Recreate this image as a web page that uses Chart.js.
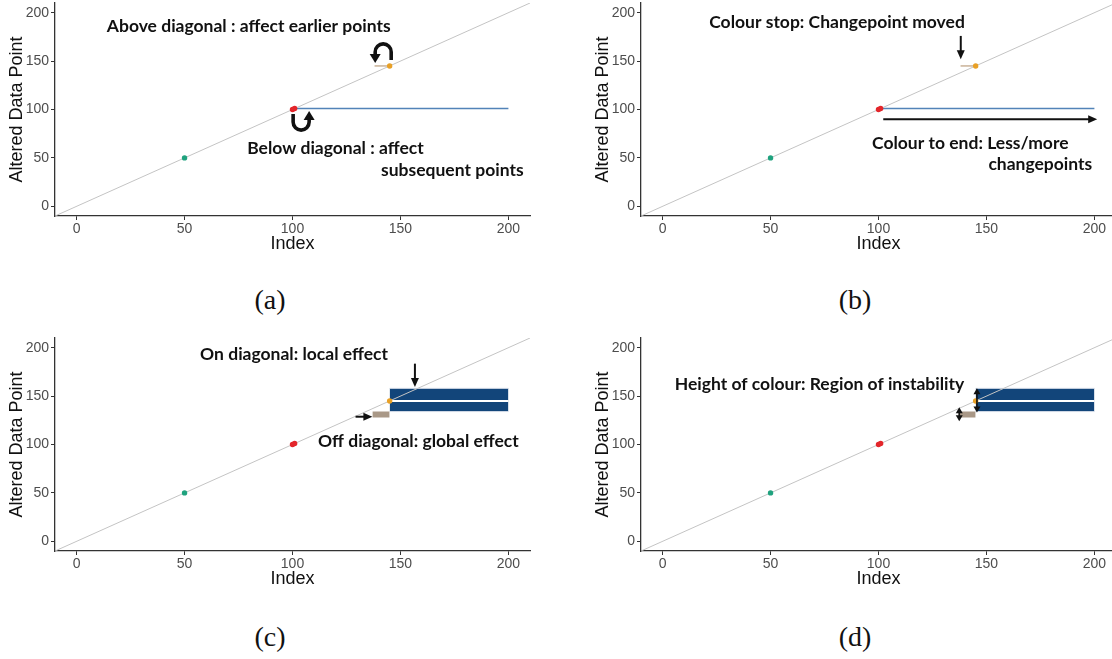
<!DOCTYPE html>
<html lang="en">
<head>
<meta charset="UTF-8">
<title>Changepoint stability diagrams</title>
<script src="https://cdn.jsdelivr.net/npm/chart.js"></script>
<style>
    body {
        margin: 0;
        width: 1112px;
        height: 659px;
        overflow: hidden;
        background: #fff;
        position: relative;
    }
    .panel {
        position: absolute;
        width: 545px;
        height: 266px;
    }
    .caption {
        position: absolute;
        width: 80px;
        margin-left: -40px;
        text-align: center;
        font-family: 'Liberation Serif', serif;
        font-size: 28px;
        line-height: 30px;
        color: #111;
    }
</style>
</head>
<body>
<div class="panel" style="left:0;top:-10px"><canvas id="chartA" width="545" height="266"></canvas></div>
<div class="panel" style="left:586px;top:-10px"><canvas id="chartB" width="545" height="266"></canvas></div>
<div class="panel" style="left:0;top:325px"><canvas id="chartC" width="545" height="266"></canvas></div>
<div class="panel" style="left:586px;top:325px"><canvas id="chartD" width="545" height="266"></canvas></div>
<div class="caption" style="left:270px;top:285px">(a)</div>
<div class="caption" style="left:855px;top:285px">(b)</div>
<div class="caption" style="left:270px;top:622px">(c)</div>
<div class="caption" style="left:855px;top:622px">(d)</div>

<script>
    // axis ticks
    const indexTicks = [0, 50, 100, 150, 200];
    const valueTicks = [0, 50, 100, 150, 200];

    // y = x reference line
    const diagIdx = [-10, 210];
    const diagVal = [-10, 210];

    // changepoints (same in every panel)
    const pointIdx = [50, 100, 101, 145];
    const pointVal = [50, 100, 101, 145];
    const pointColours = ['#1fa27e', '#e3262b', '#e3262b', '#e8a026'];

    // (a), (b): thin segments
    const blueLineIdx = [101, 200];
    const blueLineVal = [101, 101];
    const tanLineIdx = [138, 145];
    const tanLineVal = [145, 145];

    // (c), (d): coloured regions
    const tileIdx = [145, 200];
    const tileLow = [134, 134];
    const tileMid = [145, 145];
    const tileHigh = [158, 158];
    const tanTileIdx = [137, 145];
    const tanTileLow = [128, 128];
    const tanTileHigh = [134, 134];

    const xy = (xs, ys) => xs.map((x, i) => ({ x: x, y: ys[i] }));

    // annotations, placed in data units
    const notesA = {
        texts: [
            { t: 'Above diagonal : affect earlier points', x: 14, y: 186 },
            { t: 'Below diagonal : affect', x: 79, y: 60 },
            { t: 'subsequent points', x: 141, y: 37 }
        ],
        arrows: [],
        curls: [
            { x: 142, y: 159.5, dir: 'over' },
            { x: 104, y: 87, dir: 'under' }
        ]
    };
    const notesB = {
        texts: [
            { t: 'Colour stop: Changepoint moved', x: 21.6, y: 189.7 },
            { t: 'Colour to end: Less/more', x: 97, y: 65 },
            { t: 'changepoints', x: 199, y: 43.4, align: 'right' }
        ],
        arrows: [
            { x1: 138.1, y1: 176, x2: 138.1, y2: 152 },
            { x1: 102.2, y1: 90, x2: 201.3, y2: 90 }
        ],
        curls: []
    };
    const notesC = {
        texts: [
            { t: 'On diagonal: local effect', x: 57.2, y: 193.2 },
            { t: 'Off diagonal: global effect', x: 111.8, y: 103.6 }
        ],
        arrows: [
            { x1: 156.7, y1: 183.5, x2: 156.7, y2: 159.5 },
            { x1: 129.2, y1: 128.7, x2: 137, y2: 128.7 }
        ],
        curls: []
    };
    const notesD = {
        texts: [
            { t: 'Height of colour: Region of instability', x: 5.6, y: 162.5 }
        ],
        arrows: [
            { x1: 145.6, y1: 158, x2: 145.6, y2: 133, both: true },
            { x1: 137.4, y1: 138.5, x2: 137.4, y2: 124, both: true }
        ],
        curls: []
    };

    function head(ctx, x, y, a, len, w) {
        ctx.beginPath();
        ctx.moveTo(x, y);
        ctx.lineTo(x - len * Math.cos(a) + w * Math.sin(a), y - len * Math.sin(a) - w * Math.cos(a));
        ctx.lineTo(x - len * Math.cos(a) - w * Math.sin(a), y - len * Math.sin(a) + w * Math.cos(a));
        ctx.closePath();
        ctx.fill();
    }

    const notesPlugin = {
        id: 'notes',
        afterDatasetsDraw(chart, args, opts) {
            const ctx = chart.ctx;
            const xs = chart.scales.x, ys = chart.scales.y;
            ctx.save();
            ctx.fillStyle = '#111';
            ctx.strokeStyle = '#111';
            ctx.font = 'bold 17.5px Lato';
            ctx.textBaseline = 'middle';
            (opts.texts || []).forEach(n => {
                ctx.textAlign = n.align || 'left';
                ctx.fillText(n.t, xs.getPixelForValue(n.x), ys.getPixelForValue(n.y));
            });
            (opts.arrows || []).forEach(a => {
                const x1 = xs.getPixelForValue(a.x1), y1 = ys.getPixelForValue(a.y1);
                const x2 = xs.getPixelForValue(a.x2), y2 = ys.getPixelForValue(a.y2);
                const ang = Math.atan2(y2 - y1, x2 - x1);
                const len = a.both ? 5 : 8;
                const w = a.both ? 3.5 : 4;
                ctx.lineWidth = a.both ? 1.6 : 2;
                ctx.beginPath();
                ctx.moveTo(x1 + (a.both ? len * Math.cos(ang) : 0), y1 + (a.both ? len * Math.sin(ang) : 0));
                ctx.lineTo(x2 - len * Math.cos(ang), y2 - len * Math.sin(ang));
                ctx.stroke();
                head(ctx, x2, y2, ang, len + 1, w);
                if (a.both) head(ctx, x1, y1, ang + Math.PI, len + 1, w);
            });
            (opts.curls || []).forEach(c => {
                const cx = xs.getPixelForValue(c.x), cy = ys.getPixelForValue(c.y);
                const r = 8;
                ctx.lineWidth = 3.6;
                ctx.beginPath();
                if (c.dir === 'over') {
                    ctx.moveTo(cx + r, cy + 8);
                    ctx.lineTo(cx + r, cy);
                    ctx.arc(cx, cy, r, 0, Math.PI, true);
                    ctx.lineTo(cx - r, cy + 2);
                    ctx.stroke();
                    head(ctx, cx - r, cy + 11, Math.PI / 2, 9, 5.5);
                } else {
                    ctx.moveTo(cx - r, cy - 8);
                    ctx.lineTo(cx - r, cy);
                    ctx.arc(cx, cy, r, Math.PI, 0, true);
                    ctx.lineTo(cx + r, cy - 2);
                    ctx.stroke();
                    head(ctx, cx + r, cy - 11, -Math.PI / 2, 9, 5.5);
                }
            });
            ctx.restore();
        }
    };

    function baseSets() {
        return [
            {
                data: xy(pointIdx, pointVal),
                showLine: false,
                pointRadius: 2.7,
                pointBorderWidth: 0,
                pointBackgroundColor: pointColours,
                order: 0
            },
            {
                data: xy(diagIdx, diagVal),
                borderColor: '#c4c4c4',
                borderWidth: 1,
                pointRadius: 0,
                order: 1
            }
        ];
    }

    function lineSets() {
        return baseSets().concat([
            { data: xy(blueLineIdx, blueLineVal), borderColor: '#5283b8', borderWidth: 1.6, pointRadius: 0, order: 2 },
            { data: xy(tanLineIdx, tanLineVal), borderColor: '#cdb79e', borderWidth: 1.6, pointRadius: 0, order: 2 }
        ]);
    }

    function tileSets() {
        return baseSets().concat([
            { data: xy(tanTileIdx, tanTileLow), borderWidth: 0, pointRadius: 0, order: 3 },
            { data: xy(tanTileIdx, tanTileHigh), borderWidth: 0, pointRadius: 0, fill: '-1', backgroundColor: '#a99887', order: 3 },
            { data: xy(tileIdx, tileLow), borderColor: '#d5dde8', borderWidth: 1, pointRadius: 0, order: 3 },
            { data: xy(tileIdx, tileMid), borderColor: '#ffffff', borderWidth: 2, pointRadius: 0, fill: '-1', backgroundColor: '#12457a', order: 3 },
            { data: xy(tileIdx, tileHigh), borderColor: '#d5dde8', borderWidth: 1, pointRadius: 0, fill: '-1', backgroundColor: '#12457a', order: 3 }
        ]);
    }

    const tickFont = { family: 'Liberation Sans', size: 14 };
    const titleFont = { family: 'Liberation Sans', size: 18 };

    function makeChart(id, datasets, notes) {
        return new Chart(document.getElementById(id), {
            type: 'line',
            data: { datasets: datasets },
            options: {
                responsive: false,
                animation: false,
                layout: { padding: { top: 13, right: 15, left: 0, bottom: 0 } },
                elements: { line: { tension: 0 } },
                plugins: {
                    legend: { display: false },
                    tooltip: { enabled: false },
                    notes: notes
                },
                scales: {
                    x: {
                        type: 'linear',
                        min: -10,
                        max: 210,
                        afterBuildTicks: s => { s.ticks = indexTicks.map(v => ({ value: v })); },
                        afterFit: s => { s.height = 40; },
                        grid: { drawOnChartArea: false, tickLength: 4, color: '#333' },
                        border: { color: '#333', width: 1.3 },
                        ticks: { padding: 1, color: '#4d4d4d', font: tickFont, maxRotation: 0 },
                        title: { display: true, text: 'Index', color: '#111', font: titleFont, padding: { top: 0, bottom: 1 } }
                    },
                    y: {
                        type: 'linear',
                        min: -10,
                        max: 210,
                        afterBuildTicks: s => { s.ticks = valueTicks.map(v => ({ value: v })); },
                        afterFit: s => { s.width = 55; },
                        grid: { drawOnChartArea: false, tickLength: 4, color: '#333' },
                        border: { color: '#333', width: 1.3 },
                        ticks: { padding: 2, color: '#4d4d4d', font: tickFont },
                        title: { display: true, text: 'Altered Data Point', color: '#111', font: titleFont, padding: { top: 6, bottom: 0 } }
                    }
                }
            },
            plugins: [notesPlugin]
        });
    }

    makeChart('chartA', lineSets(), notesA);
    makeChart('chartB', lineSets(), notesB);
    makeChart('chartC', tileSets(), notesC);
    makeChart('chartD', tileSets(), notesD);
</script>
</body>
</html>
